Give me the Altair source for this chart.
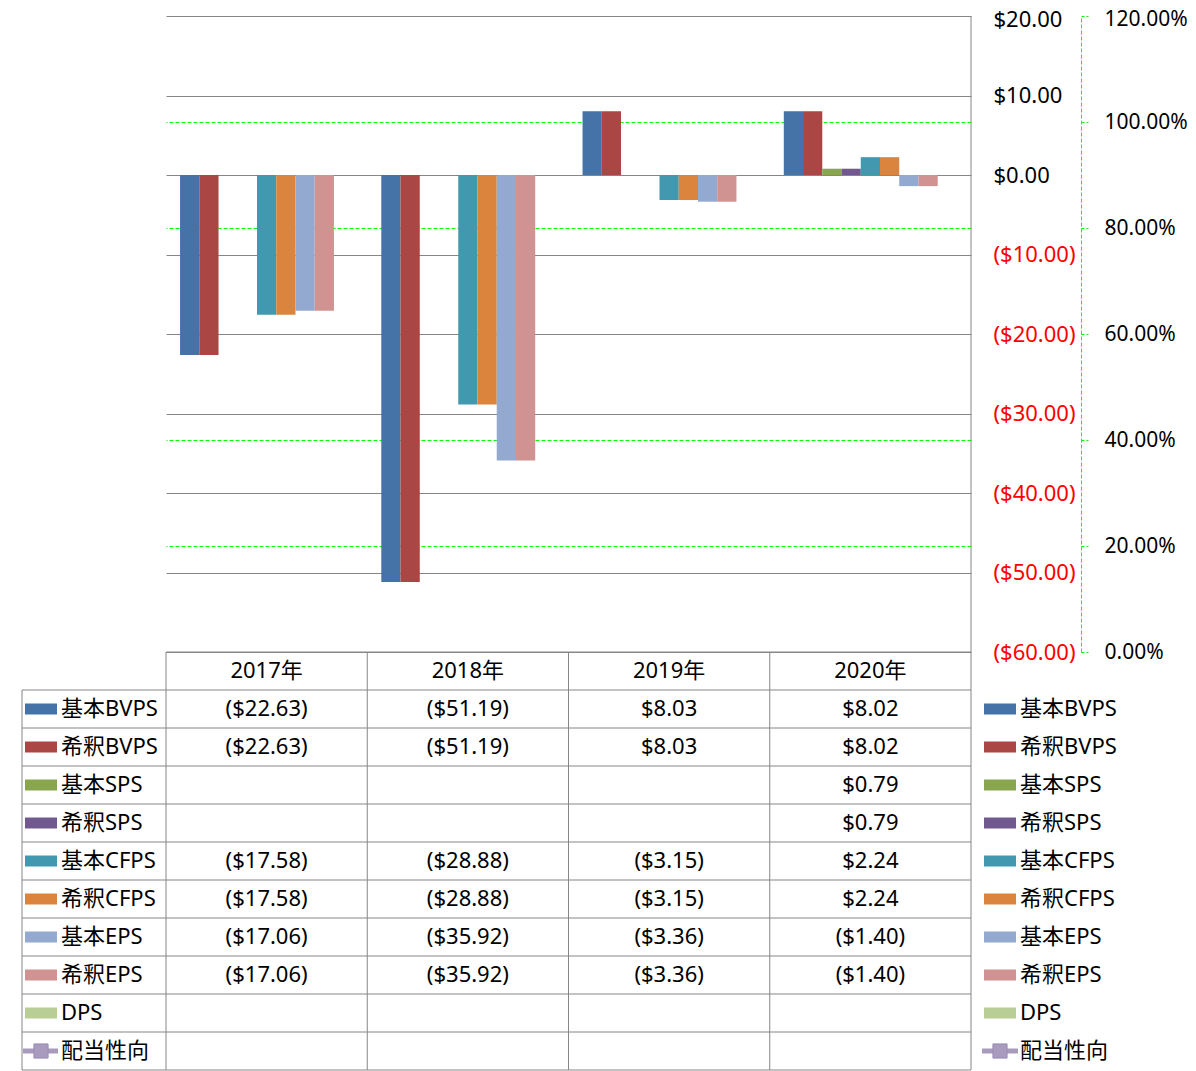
import altair as alt
import pandas as pd

# ---------------- data ----------------
years = ["2017年", "2018年", "2019年", "2020年"]
series = ["基本BVPS", "希釈BVPS", "基本SPS", "希釈SPS", "基本CFPS", "希釈CFPS",
          "基本EPS", "希釈EPS", "DPS", "配当性向"]
bar_series = series[:9]
colors = ["#4572A7", "#AA4643", "#89A54E", "#71588F", "#4198AF", "#DB843D",
          "#93A9CF", "#D19392", "#B9CD96", "#A99BBD"]

basic_bvps = [-22.63, -51.19, 8.03, 8.02]
diluted_bvps = [-22.63, -51.19, 8.03, 8.02]
basic_sps = [None, None, None, 0.79]
diluted_sps = [None, None, None, 0.79]
basic_cfps = [-17.58, -28.88, -3.15, 2.24]
diluted_cfps = [-17.58, -28.88, -3.15, 2.24]
basic_eps = [-17.06, -35.92, -3.36, -1.40]
diluted_eps = [-17.06, -35.92, -3.36, -1.40]
dps = [None, None, None, None]
payout_ratio = [None, None, None, None]

usd_ticks = [20, 10, 0, -10, -20, -30, -40, -50, -60]
pct_ticks = [0, 0.2, 0.4, 0.6, 0.8, 1.0, 1.2]

values_by_series = [basic_bvps, diluted_bvps, basic_sps, diluted_sps, basic_cfps,
                    diluted_cfps, basic_eps, diluted_eps, dps]


def fmt(v):
    if v is None:
        return ""
    return f"(${-v:.2f})" if v < 0 else f"${v:.2f}"


rows = []
for s, vals in zip(bar_series, values_by_series):
    for y, v in zip(years, vals):
        rows.append({"series": s, "year": y, "value": v, "label": fmt(v)})
df = pd.DataFrame(rows)
df_bars = df[df["value"].notna()].copy()
df_pay = pd.DataFrame({"year": years, "payout": payout_ratio, "series": "配当性向"})
df_pay["payout"] = df_pay["payout"].astype(float)

text_rows = [{"row": "header", "year": y, "label": y} for y in years]
text_rows += [{"row": r["series"], "year": r["year"], "label": r["label"]} for r in rows]
df_text = pd.DataFrame(text_rows)
df_leg = pd.DataFrame({"row": series})
df_rows = pd.DataFrame({"row": ["header"] + series})
df_years = pd.DataFrame({"year": years})

# ---------------- styles ----------------
FONT = "Noto Sans, Noto Sans CJK JP"
FS = 22
GRAY = "#868686"
GREEN = "#00FF00"
W, PLOT_H, H = 805, 636, 1054

xscale = alt.Scale(domain=years, paddingInner=0, paddingOuter=0)
cscale = alt.Scale(domain=series, range=colors)
row_scale = alt.Scale(domain=["header"] + series, range=[PLOT_H, H],
                      paddingInner=0, paddingOuter=0)


def rowY(bp=None):
    if bp is None:
        return alt.Y("row:N", scale=row_scale, axis=None)
    return alt.Y("row:N", scale=row_scale, axis=None, bandPosition=bp)


usd_axis = alt.Axis(
    orient="right", values=usd_ticks, title=None, grid=True, gridColor=GRAY,
    ticks=False, tickSize=0, domain=False, labelPadding=22, labelAlign="left",
    labelFont=FONT, labelFontSize=FS,
    labelOffset={"condition": {"test": "datum.value > 19", "value": 3}, "value": 0},
    labelExpr="datum.value < 0 ? '($' + format(-datum.value, '.2f') + ')' : '$' + format(datum.value, '.2f')",
    labelColor={"condition": {"test": "datum.value < 0", "value": "#FF0000"}, "value": "#000000"},
)

bars = alt.Chart(df_bars).mark_bar().encode(
    x=alt.X("year:N", scale=xscale, axis=None),
    xOffset=alt.XOffset("series:N", scale=alt.Scale(domain=bar_series, paddingInner=0, paddingOuter=0.73)),
    y=alt.Y("value:Q", scale=alt.Scale(domain=[-60, 20], range=[PLOT_H, 0], nice=False, zero=False),
            axis=usd_axis),
    color=alt.Color("series:N", scale=cscale, legend=None),
)

pct_axis = alt.Axis(
    orient="right", offset=110, values=pct_ticks, format=".2%", title=None,
    grid=True, gridDash=[4, 2],
    gridColor={"condition": {"test": "abs(datum.value - 0.6) < 0.001 || datum.value < 0.001 || datum.value > 1.19",
                             "value": "transparent"}, "value": GREEN},
    domainColor=GREEN, domainDash=[4, 2], tickColor=GREEN, tickDash=[3, 2],
    tickSize=7, labelPadding=16, labelAlign="left", labelFont=FONT, labelFontSize=21,
    labelOffset={"condition": {"test": "datum.value > 1.19", "value": 3}, "value": 0},
    labelColor="#000000",
)

payout = alt.Chart(df_pay).mark_line(color="#A99BBD", strokeWidth=4).encode(
    x=alt.X("year:N", scale=xscale, axis=None),
    y=alt.Y("payout:Q", scale=alt.Scale(domain=[0, 1.2], range=[PLOT_H, 0], nice=False, zero=False),
            axis=pct_axis),
)

# ---------------- data table ----------------
cell_text = alt.Chart(df_text).mark_text(font=FONT, fontSize=FS, align="center", baseline="middle",
                                         color="#000000").encode(
    x=alt.X("year:N", scale=xscale, axis=None),
    y=rowY(),
    text="label:N",
)

h_header = alt.Chart(df_rows[df_rows["row"] == "header"]).mark_rule(color=GRAY, strokeWidth=1).encode(
    x=alt.value(0), x2=alt.value(W), y=rowY(0))
h_rows = alt.Chart(df_rows[df_rows["row"] != "header"]).mark_rule(color=GRAY, strokeWidth=1).encode(
    x=alt.value(-144), x2=alt.value(W), y=rowY(0))
h_bottom = alt.Chart(df_rows[df_rows["row"] == series[-1]]).mark_rule(color=GRAY, strokeWidth=1).encode(
    x=alt.value(-144), x2=alt.value(W), y=rowY(1))
v_cols = alt.Chart(df_years).mark_rule(color=GRAY, strokeWidth=1).encode(
    x=alt.X("year:N", scale=xscale, axis=None, bandPosition=0),
    y=alt.value(PLOT_H), y2=alt.value(H))
v_right = alt.Chart(df_years.head(1)).mark_rule(color=GRAY, strokeWidth=1).encode(
    x=alt.value(W), y=alt.value(0), y2=alt.value(H))
v_left = alt.Chart(df_rows[df_rows["row"] == series[0]]).mark_rule(color=GRAY, strokeWidth=1).encode(
    x=alt.value(-144), y=rowY(0), y2=alt.value(H))


def legend_layers(sw_x, txt_x, line_x1, line_x2):
    sw = alt.Chart(df_leg[df_leg["row"] != "配当性向"]).mark_tick(
        orient="horizontal", size=32, thickness=11, opacity=1).encode(
        x=alt.value(sw_x), y=rowY(),
        color=alt.Color("row:N", scale=cscale, legend=None))
    pl = alt.Chart(df_leg[df_leg["row"] == "配当性向"]).mark_rule(
        color="#A99BBD", strokeWidth=5).encode(
        x=alt.value(line_x1), x2=alt.value(line_x2), y=rowY())
    pm = alt.Chart(df_leg[df_leg["row"] == "配当性向"]).mark_square(
        size=200, filled=True, opacity=1, color="#A99BBD", stroke="#9B8DB5", strokeWidth=1).encode(
        x=alt.value(sw_x), y=rowY())
    tx = alt.Chart(df_leg).mark_text(font=FONT, fontSize=FS, align="left", baseline="middle",
                                     color="#000000").encode(
        x=alt.value(txt_x), y=rowY(), text="row:N")
    return [sw, pl, pm, tx]


left_leg = legend_layers(-125, -105, -143, -108)
right_leg = legend_layers(834, 854, 816, 852)

chart = alt.layer(
    bars, payout, h_header, h_rows, h_bottom, v_cols, v_right, v_left, cell_text,
    *left_leg, *right_leg
).resolve_scale(y="independent").properties(
    width=W, height=H,
    autosize=alt.AutoSizeParams(type="none"),
    padding={"left": 158, "top": 8, "right": 217, "bottom": 1},
).configure_view(stroke=None)

chart.save("out.html", embed_options={"renderer": "svg", "actions": False})
